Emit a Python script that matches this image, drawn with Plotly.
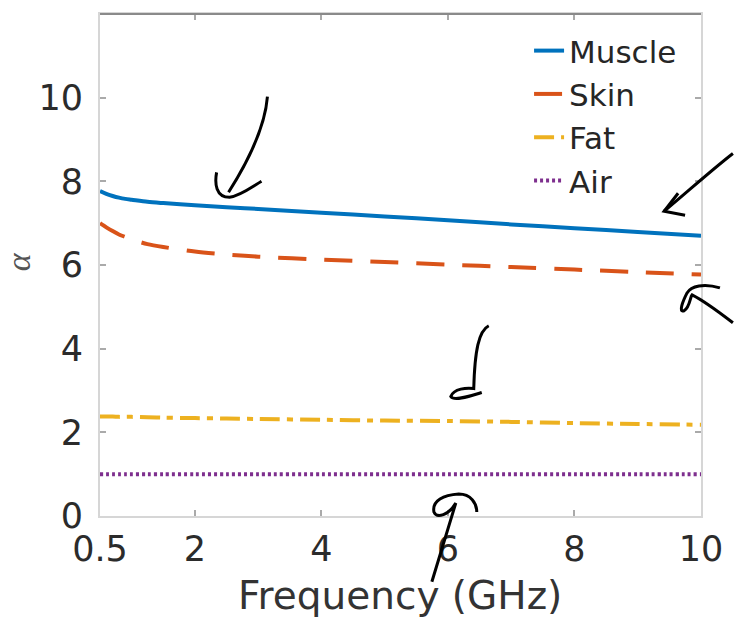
import plotly.graph_objects as go

# ---- data ----
freq = [0.5, 0.6, 0.7, 0.8, 0.9, 1, 1.25, 1.5, 2, 2.5, 3, 4, 5, 6, 7, 8, 9, 10]
muscle = [7.77, 7.70, 7.65, 7.61, 7.58, 7.56, 7.51, 7.48, 7.43, 7.38, 7.34, 7.25, 7.16, 7.07, 6.97, 6.88, 6.79, 6.70]
skin = [7.00, 6.90, 6.81, 6.73, 6.67, 6.61, 6.50, 6.43, 6.32, 6.25, 6.20, 6.13, 6.07, 6.01, 5.95, 5.89, 5.83, 5.77]
fat = [2.38, 2.38, 2.38, 2.37, 2.37, 2.37, 2.36, 2.35, 2.34, 2.33, 2.32, 2.30, 2.28, 2.27, 2.25, 2.22, 2.20, 2.18]
air = [1.0] * len(freq)

x_ticks = [0.5, 2, 4, 6, 8, 10]
x_ticktext = ["0.5", "2", "4", "6", "8", "10"]
y_ticks = [0, 2, 4, 6, 8, 10]

series = [
    ("Muscle", muscle, "#0072BD", "solid"),
    ("Skin", skin, "#D95319", "28px,18px"),
    ("Fat", fat, "#EDB120", "20px,7px,6px,7px"),
    ("Air", air, "#7E2F8E", "3px,3px"),
]

# ---- layout geometry (pixels) ----
W, H = 735, 622
L, R, T, B = 100, 32, 12, 106
PW, PH = W - L - R, H - T - B


def paper(px, py):
    return ((px - L) / PW, (H - B - py) / PH)


def path(points_cmds):
    out = []
    for cmd, pts in points_cmds:
        coords = []
        for (px, py) in pts:
            ux, uy = paper(px, py)
            coords.append(f"{ux:.4f},{uy:.4f}")
        out.append(cmd + " " + " ".join(coords))
    return " ".join(out)


# hand-drawn pen strokes overlaid on the figure (pixel positions)
strokes = [
    [("M", [(268, 95)]), ("C", [(266, 120), (255, 150), (229, 191)])],
    [("M", [(217, 171)]), ("C", [(215, 182), (216, 196), (230, 196)]), ("C", [(240, 195), (252, 186), (262, 180)])],
    [("M", [(735, 152)]), ("C", [(712, 170), (690, 190), (666, 210)])],
    [("M", [(680, 192)]), ("L", [(666, 210)]), ("L", [(687, 214)])],
    [("M", [(722, 287)]), ("C", [(706, 282), (693, 285), (689, 292)]),
     ("C", [(685, 300), (680, 312), (686, 310)]), ("C", [(692, 306), (692, 296), (694, 294)]),
     ("C", [(706, 300), (722, 312), (735, 322)])],
    [("M", [(490, 325)]), ("C", [(480, 330), (476, 350), (475, 388)]),
     ("C", [(468, 387), (455, 388), (452, 396)]), ("C", [(455, 401), (470, 396), (483, 392)])],
    [("M", [(433, 582)]), ("L", [(457, 503)]), ("C", [(450, 515), (438, 519), (435, 512)]),
     ("C", [(433, 500), (445, 495), (460, 494)]), ("C", [(472, 494), (478, 503), (478, 512)])],
]

fig = go.Figure()
for name, vals, color, dash in series:
    fig.add_trace(go.Scatter(
        x=freq, y=vals, name=name, mode="lines",
        line=dict(color=color, width=4, dash=dash, shape="spline", smoothing=0.8),
    ))

shapes = []
# darker top frame line
shapes.append(dict(type="line", xref="paper", yref="paper", x0=0, x1=1, y0=1, y1=1,
                   line=dict(color="#8a8a8a", width=2)))
for s in strokes:
    shapes.append(dict(type="path", xref="paper", yref="paper", path=path(s),
                       line=dict(color="black", width=3), layer="above"))

font_main = "DejaVu Sans"
ax_x, ax_y = paper(18, 261)
tx, ty = paper(401, 596)

fig.update_layout(
    width=W, height=H,
    margin=dict(l=L, r=R, t=T, b=B),
    paper_bgcolor="white", plot_bgcolor="white",
    showlegend=True,
    legend=dict(
        x=paper(684, 0)[0], y=paper(0, 22)[1], xanchor="right", yanchor="top",
        bgcolor="rgba(0,0,0,0)", borderwidth=0,
        font=dict(family=font_main, size=31, color="#262626"),
        tracegroupgap=0, itemwidth=30,
    ),
    xaxis=dict(
        range=[0.5, 10], tickvals=x_ticks, ticktext=x_ticktext,
        showgrid=False, zeroline=False,
        showline=True, linecolor="#d6d6d6", linewidth=2, mirror="ticks",
        ticks="inside", ticklen=6, tickwidth=2, tickcolor="#aaaaaa",
        tickfont=dict(family=font_main, size=35, color="#2b2b2b"),
        ticklabelstandoff=1,
    ),
    yaxis=dict(
        range=[0, 12], tickvals=y_ticks,
        showgrid=False, zeroline=False,
        showline=True, linecolor="#d6d6d6", linewidth=2, mirror="ticks",
        ticks="inside", ticklen=6, tickwidth=2, tickcolor="#aaaaaa",
        tickfont=dict(family=font_main, size=35, color="#2b2b2b"),
        ticklabelstandoff=8,
    ),
    annotations=[
        dict(text="<i>α</i>", xref="paper", yref="paper", x=ax_x, y=ax_y,
             showarrow=False, textangle=-90, xanchor="center", yanchor="middle",
             font=dict(family="Liberation Serif", size=34, color="#555555")),
        dict(text="Frequency (GHz)", xref="paper", yref="paper", x=tx, y=ty,
             showarrow=False, xanchor="center", yanchor="middle",
             font=dict(family=font_main, size=39, color="#333333")),
    ],
    shapes=shapes,
)

fig.write_html("out.html")
